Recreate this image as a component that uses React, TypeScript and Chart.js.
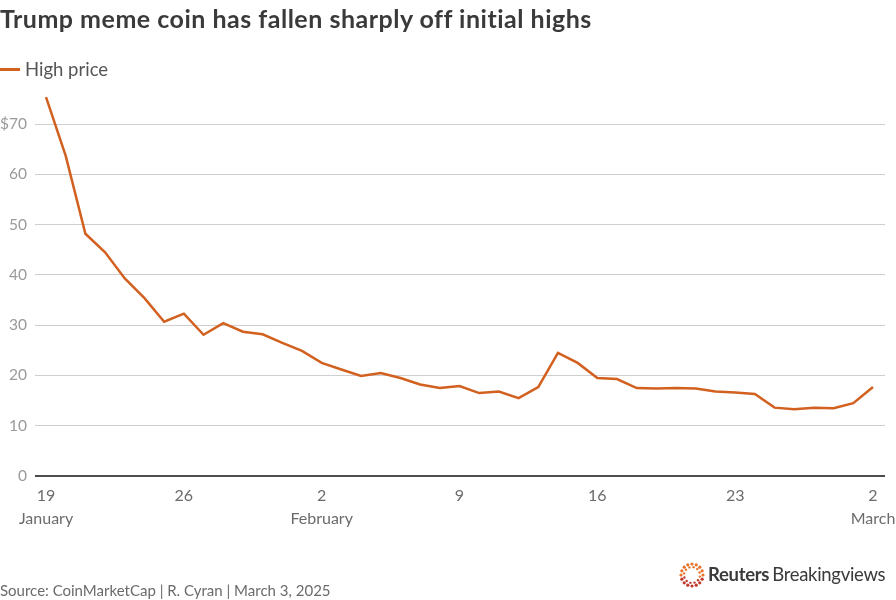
import React, { useEffect, useRef } from "react";
import { Chart, registerables } from "chart.js";

Chart.register(...registerables);

const dates = [
  "Jan 19","Jan 20","Jan 21","Jan 22","Jan 23","Jan 24","Jan 25","Jan 26","Jan 27","Jan 28","Jan 29","Jan 30","Jan 31",
  "Feb 1","Feb 2","Feb 3","Feb 4","Feb 5","Feb 6","Feb 7","Feb 8","Feb 9","Feb 10","Feb 11","Feb 12","Feb 13","Feb 14",
  "Feb 15","Feb 16","Feb 17","Feb 18","Feb 19","Feb 20","Feb 21","Feb 22","Feb 23","Feb 24","Feb 25","Feb 26","Feb 27","Feb 28",
  "Mar 1","Mar 2",
];

const highPrice = [
  75.4, 63.7, 48.2, 44.5, 39.3, 35.4, 30.7, 32.3, 28.1, 30.4, 28.7, 28.2, 26.5,
  24.9, 22.5, 21.2, 19.9, 20.5, 19.5, 18.2, 17.5, 17.9, 16.5, 16.8, 15.5, 17.7, 24.5,
  22.5, 19.5, 19.3, 17.5, 17.4, 17.5, 17.4, 16.8, 16.6, 16.3, 13.6, 13.3, 13.6, 13.5,
  14.5, 17.7,
];

const xTickIndex = [0, 7, 14, 21, 28, 35, 42];
const xTickLabels = [["19", "January"], ["26"], ["2", "February"], ["9"], ["16"], ["23"], ["2", "March"]];
const yTicks = [0, 10, 20, 30, 40, 50, 60, 70];

const ORANGE = "#d2601f";
const FONT = "Lato, 'Open Sans', sans-serif";

function Logo() {
  const dots: React.ReactNode[] = [];
  const rings = [
    { r: 11, n: 16, s: 1.6 },
    { r: 8, n: 12, s: 1.2 },
  ];
  rings.forEach((ring, ri) => {
    for (let k = 0; k < ring.n; k++) {
      const a = (k / ring.n) * Math.PI * 2 + ri * 0.2;
      const cx = 13 + ring.r * Math.cos(a);
      const cy = 13 + ring.r * Math.sin(a);
      const red = Math.sin(a) > 0.3;
      dots.push(
        <circle key={ri + "-" + k} cx={cx} cy={cy} r={ring.s} fill={red ? "#c0392b" : "#e8742a"} />
      );
    }
  });
  return (
    <svg width={26} height={26} style={{ position: "absolute", left: 679, top: 562 }}>
      {dots}
    </svg>
  );
}

export default function App() {
  const ref = useRef<HTMLCanvasElement | null>(null);

  useEffect(() => {
    document.body.style.margin = "0";
    const ctx = ref.current!;
    const chart = new Chart(ctx, {
      type: "line",
      data: {
        labels: dates,
        datasets: [
          {
            label: "High price",
            data: highPrice.map((v, i) => ({ x: i, y: v })),
            borderColor: ORANGE,
            borderWidth: 2.5,
            pointRadius: 0,
            tension: 0,
            fill: false,
          },
        ],
      },
      options: {
        animation: false,
        responsive: false,
        maintainAspectRatio: false,
        layout: { padding: { left: 0, right: 11, top: 89, bottom: 0 } },
        plugins: {
          legend: { display: false },
          tooltip: { enabled: false },
          title: { display: false },
        },
        scales: {
          x: {
            type: "linear",
            min: -0.56,
            max: 42.61,
            afterBuildTicks: (s: any) => {
              s.ticks = xTickIndex.map((v) => ({ value: v }));
            },
            afterFit: (s: any) => {
              s.height = 124;
              s.paddingLeft = 0;
              s.paddingRight = 0;
            },
            grid: { display: false, drawTicks: false },
            border: { display: false },
            ticks: {
              autoSkip: false,
              maxRotation: 0,
              padding: 9,
              color: "#6b6b6b",
              font: { family: FONT, size: 16, lineHeight: 1.4 },
              callback: (v: any) => {
                const idx = xTickIndex.indexOf(Number(v));
                return idx >= 0 ? xTickLabels[idx] : "";
              },
            },
          },
          y: {
            min: 0,
            max: 77,
            afterBuildTicks: (s: any) => {
              s.ticks = yTicks.map((v) => ({ value: v }));
            },
            afterFit: (s: any) => {
              s.width = 35;
              s.paddingTop = 0;
              s.paddingBottom = 0;
            },
            border: { display: false },
            grid: {
              drawTicks: false,
              color: (c: any) => (c.tick && c.tick.value === 0 ? "#4d4d4d" : "#cfcfcf"),
              lineWidth: (c: any) => (c.tick && c.tick.value === 0 ? 2 : 1),
            },
            ticks: {
              padding: 8,
              color: "#9a9a9a",
              font: { family: FONT, size: 15.5 },
              callback: (v: any) => (Number(v) === 70 ? "$70" : String(v)),
            },
          },
        },
      },
    });
    return () => chart.destroy();
  }, []);

  return (
    <div style={{ position: "absolute", left: 0, top: 0, width: 896, height: 600, background: "#fff", fontFamily: FONT, overflow: "hidden" }}>
      <canvas ref={ref} width={896} height={600} style={{ position: "absolute", left: 0, top: 0, width: 896, height: 600 }} />
      <div style={{ position: "absolute", left: 0, top: 3, fontSize: 25, fontWeight: 700, color: "#3a3a3a", whiteSpace: "nowrap", letterSpacing: 0.5 }}>
        Trump meme coin has fallen sharply off initial highs
      </div>
      <div style={{ position: "absolute", left: 0, top: 58, display: "flex", alignItems: "center", fontSize: 18.5, color: "#555" }}>
        <span style={{ display: "inline-block", width: 20, height: 3, background: ORANGE, marginRight: 5 }} />
        <span>High price</span>
      </div>
      <div style={{ position: "absolute", left: 0, top: 581, fontSize: 15, color: "#6b6b6b", whiteSpace: "nowrap" }}>
        Source: CoinMarketCap | R. Cyran | March 3, 2025
      </div>
      <Logo />
      <div style={{ position: "absolute", left: 708, top: 563, fontSize: 18.5, color: "#3a3a3a", whiteSpace: "nowrap", letterSpacing: -0.3 }}>
        <span style={{ fontWeight: 700 }}>Reuters</span>
        <span style={{ fontWeight: 400, marginLeft: 3 }}>Breakingviews</span>
      </div>
    </div>
  );
}
